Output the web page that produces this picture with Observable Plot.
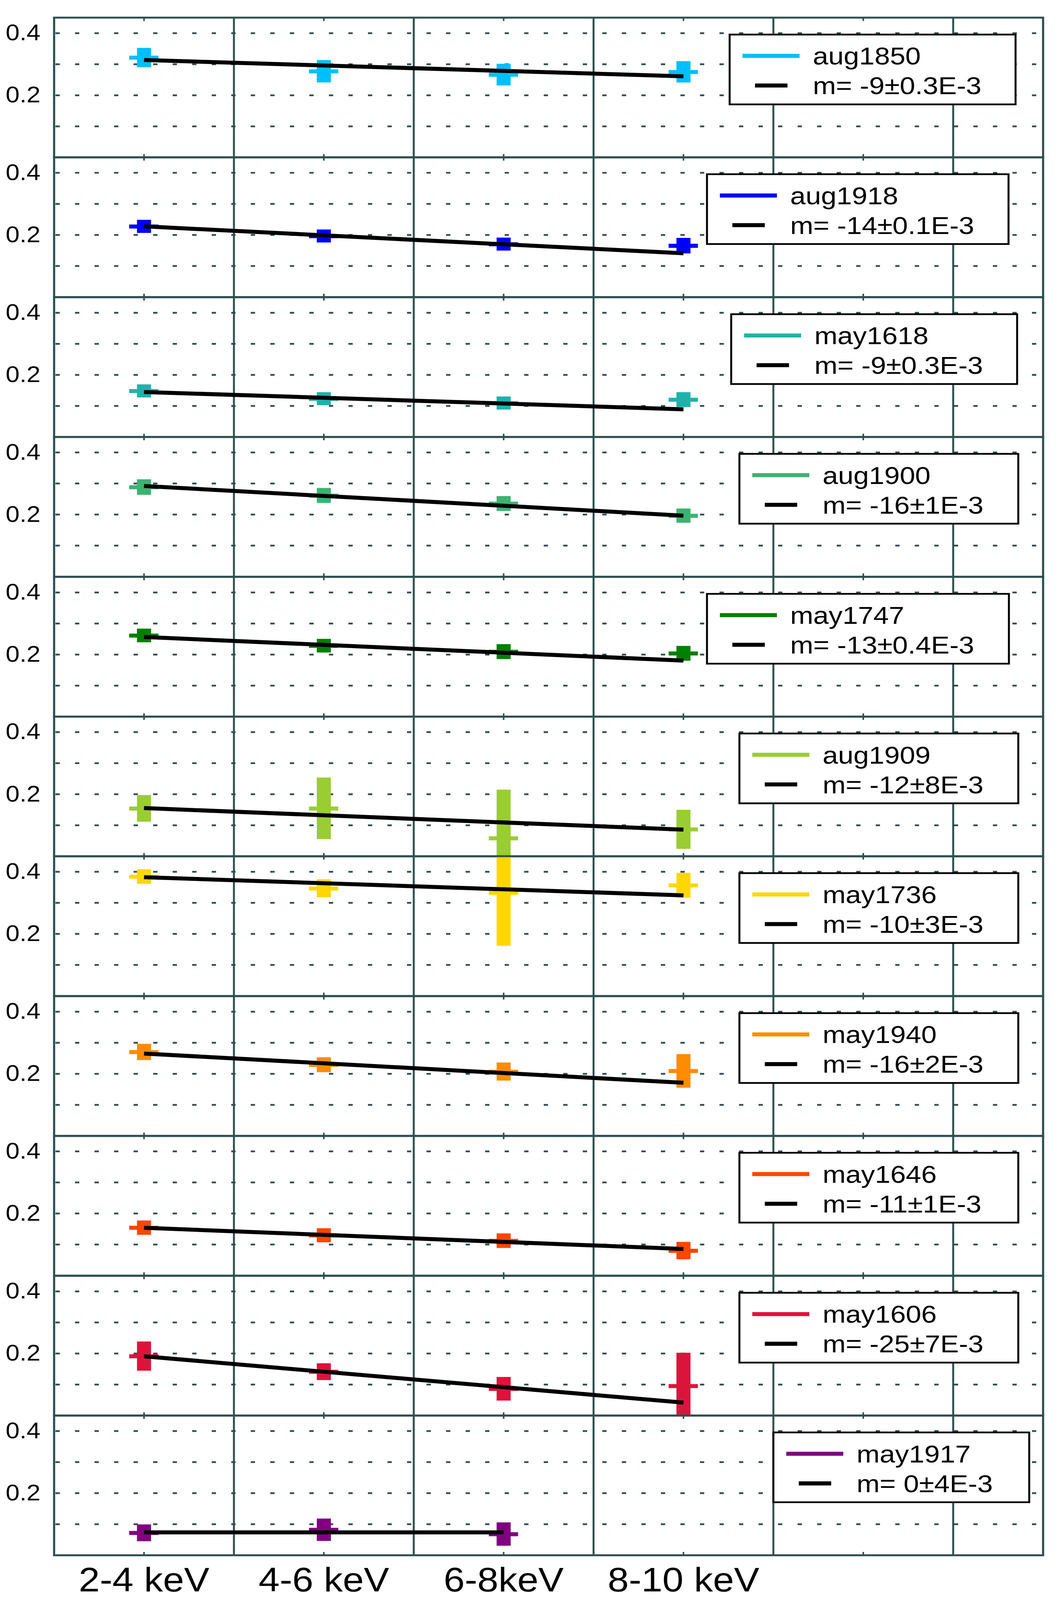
<!DOCTYPE html>
<html>
<head>
<meta charset="utf-8">
<script src="https://cdn.jsdelivr.net/npm/d3@7"></script>
<script src="https://cdn.jsdelivr.net/npm/@observablehq/plot@0.6"></script>
<style>
  html, body { margin: 0; padding: 0; background: #fff; overflow: hidden; }
  #wrap { position: relative; width: 100vw; height: 100vh; overflow: hidden; background: #fff; }
  #chart { position: absolute; left: 0; top: 0; width: 2724px; height: 4583px; background: #fff; transform-origin: 0 0; }
  #chart svg { position: absolute; left: 0; }
</style>
</head>
<body>
<div id="wrap"><div id="chart"></div></div>
<script>
// ---------------- DATA ----------------
const bands = ["2-4 keV", "4-6 keV", "6-8keV", "8-10 keV"];

const seriesNames = ["aug1850", "aug1918", "may1618", "aug1900", "may1747", "aug1909",
                     "may1736", "may1940", "may1646", "may1606", "may1917"];

const slopeLabels = ["m= -9±0.3E-3", "m= -14±0.1E-3", "m= -9±0.3E-3", "m= -16±1E-3",
                     "m= -13±0.4E-3", "m= -12±8E-3", "m= -10±3E-3", "m= -16±2E-3",
                     "m= -11±1E-3", "m= -25±7E-3", "m= 0±4E-3"];

// values per energy band, and symmetric errors
const aug1850 = [0.321, 0.277, 0.266, 0.275];
const aug1850Err = [0.031, 0.036, 0.035, 0.0345];
const aug1918 = [0.227, 0.196, 0.170, 0.165];
const aug1918Err = [0.021, 0.021, 0.021, 0.025];
const may1618 = [0.148, 0.123, 0.109, 0.120];
const may1618Err = [0.021, 0.021, 0.021, 0.024];
const aug1900 = [0.288, 0.261, 0.235, 0.196];
const aug1900Err = [0.025, 0.024, 0.024, 0.023];
const may1747 = [0.261, 0.228, 0.209, 0.2035];
const may1747Err = [0.022, 0.022, 0.024, 0.024];
const aug1909 = [0.154, 0.154, 0.058, 0.0865];
const aug1909Err = [0.043, 0.099, 0.156, 0.063];
const may1736 = [0.384, 0.346, 0.332, 0.356];
const may1736Err = [0.0235, 0.029, 0.171, 0.040];
const may1940 = [0.270, 0.229, 0.207, 0.209];
const may1940Err = [0.026, 0.024, 0.029, 0.054];
const may1646 = [0.154, 0.1295, 0.112, 0.080];
const may1646Err = [0.023, 0.0226, 0.0235, 0.028];
const may1606 = [0.191, 0.141, 0.086, 0.095];
const may1606Err = [0.047, 0.027, 0.038, 0.107];
const may1917 = [0.0718, 0.0818, 0.0677];
const may1917Err = [0.027, 0.036, 0.0376];

// linear fit: value at first band and at last band
const fitStart = [0.3135, 0.2276, 0.145, 0.292, 0.2566, 0.1554, 0.3824, 0.2654, 0.154, 0.191, 0.0736];
const fitEnd   = [0.261, 0.141, 0.0894, 0.1965, 0.1806, 0.0859, 0.324, 0.1712, 0.0859, 0.0419, 0.0736];

const yTicks = [0.2, 0.4];
const yGrid = [0.1, 0.2, 0.3, 0.4];
const xGrid = [1.5, 2.5, 3.5, 4.5, 5.5];
const xMinorTicks = [1, 2, 3, 4, 5];

// ---------------- STYLE / LAYOUT ----------------
const colors = ["#00bfff", "#0000ff", "#20b2aa", "#3cb371", "#008000", "#9acd32",
                "#ffd700", "#ff8c00", "#ff4500", "#dc143c", "#800080"];
const legendBoxes = [[1868, 732], [1810, 772], [1872, 732], [1893, 714], [1810, 773], [1893, 714],
                     [1893, 714], [1893, 714], [1893, 714], [1893, 714], [1980, 655]];

const valueArrays = [aug1850, aug1918, may1618, aug1900, may1747, aug1909, may1736, may1940, may1646, may1606, may1917];
const errArrays = [aug1850Err, aug1918Err, may1618Err, aug1900Err, may1747Err, aug1909Err, may1736Err, may1940Err, may1646Err, may1606Err, may1917Err];

const W = 2724, H = 4583, ML = 138, MR = 54, PH = 400.4, MT = 20, TOP = 50;
const gridColor = "#2f4f4f";
const font = "'Liberation Sans', Arial, Helvetica, sans-serif";
const pxPerUnit = (W - ML - MR) / 5.5;
const capHalf = 37.5 / pxPerUnit;

const chart = document.getElementById("chart");

// fit the fixed-size drawing to the actual viewport
const vw = window.innerWidth || W, vh = window.innerHeight || H;
chart.style.transform = `scale(${vw / W}, ${vh / H})`;

seriesNames.forEach((name, k) => {
  const isLast = k === seriesNames.length - 1;
  const MB = isLast ? 129 : 20;
  const vals = valueArrays[k];
  const errs = errArrays[k];
  const rows = vals.map((v, i) => ({x: i + 1, band: bands[i], v, lo: v - errs[i], hi: v + errs[i]}));
  const fit = [{x: 1, y: fitStart[k]}, {x: vals.length, y: fitEnd[k]}];
  const color = colors[k];

  const marks = [
    Plot.gridY(yGrid, {stroke: gridColor, strokeOpacity: 1, strokeWidth: 5,
                       strokeDasharray: "11 39", strokeDashoffset: 46}),
    Plot.gridX(xGrid, {stroke: gridColor, strokeOpacity: 1, strokeWidth: 5}),
    Plot.axisY(yTicks, {tickSize: 0, tickPadding: 35, fontSize: 64, label: null, tickFormat: d3.format(".1f")}),
    Plot.axisX(xMinorTicks, {anchor: "top", tickSize: -9, stroke: gridColor, strokeWidth: 4, label: null, tickFormat: () => ""}),
    Plot.axisX(xMinorTicks, {anchor: "bottom", tickSize: -9, stroke: gridColor, strokeWidth: 4, label: null, tickFormat: () => ""}),
    Plot.ruleX(rows, {x: "x", y1: "lo", y2: "hi", stroke: color, strokeWidth: 36, clip: true}),
    Plot.ruleY(rows, {y: "v", x1: d => d.x - capHalf, x2: d => d.x + capHalf, stroke: color, strokeWidth: 11.5, clip: true}),
    Plot.line(fit, {x: "x", y: "y", stroke: "black", strokeWidth: 11.5, strokeLinecap: "butt", clip: true}),
    Plot.frame({stroke: gridColor, strokeWidth: 5.5})
  ];
  if (isLast) {
    marks.push(Plot.axisX([1, 2, 3, 4], {anchor: "bottom", tickSize: 0, tickPadding: 35, fontSize: 97,
                                         label: null, tickFormat: d => bands[d - 1]}));
  }

  const svg = Plot.plot({
    width: W,
    height: PH + MT + MB,
    marginLeft: ML, marginRight: MR, marginTop: MT, marginBottom: MB,
    x: {domain: [0.5, 6], label: null},
    y: {domain: [0, 0.45], label: null},
    style: {background: "transparent", overflow: "visible", maxWidth: "none", fontFamily: font, color: "black"},
    marks
  });
  svg.style.top = (TOP - MT + k * PH) + "px";

  // legend box
  const [lx, lw] = legendBoxes[k];
  const g = d3.select(svg).append("g").attr("transform", `translate(${lx},${MT + 49})`)
    .attr("font-family", font).attr("font-size", 71).attr("text-anchor", "start");
  g.append("rect").attr("width", lw).attr("height", 200)
    .attr("fill", "white").attr("stroke", "black").attr("stroke-width", 5);
  g.append("line").attr("x1", 33).attr("x2", 179).attr("y1", 61).attr("y2", 61)
    .attr("stroke", color).attr("stroke-width", 11.5);
  g.append("text").attr("x", 213).attr("y", 86).attr("fill", "black").text(name);
  g.append("line").attr("x1", 65).attr("x2", 148).attr("y1", 146).attr("y2", 146)
    .attr("stroke", "black").attr("stroke-width", 11.5);
  g.append("text").attr("x", 213).attr("y", 171).attr("fill", "black").text(slopeLabels[k]);

  chart.appendChild(svg);
});
</script>
</body>
</html>
